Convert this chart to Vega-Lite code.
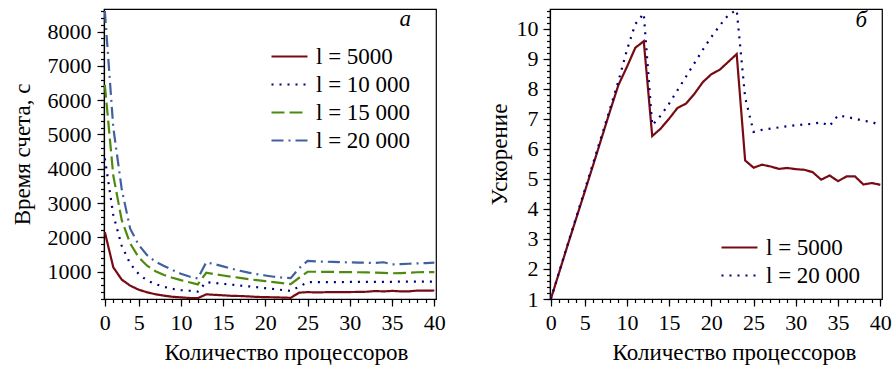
{
  "$schema": "https://vega.github.io/schema/vega-lite/v6.json",
  "padding": {"left": 10, "top": 7, "right": 0, "bottom": 0},
  "background": "white",
  "spacing": 41,
  "config": {
    "font": "Liberation Serif, Times New Roman, serif",
    "view": {"stroke": "black", "strokeWidth": 1.2},
    "axis": {
      "grid": false,
      "domainColor": "black", "domainWidth": 1.2,
      "tickColor": "black", "tickWidth": 1.2, "tickSize": 7,
      "labelColor": "black", "labelFont": "Liberation Serif, Times New Roman, serif", "labelFontSize": 22,
      "titleColor": "black", "titleFont": "Liberation Serif, Times New Roman, serif", "titleFontSize": 23, "titleFontWeight": "normal"
    },
    "legend": {
      "labelFont": "Liberation Serif, Times New Roman, serif", "labelFontSize": 23, "labelColor": "black",
      "symbolType": "M-2,0H2", "symbolSize": 324, "symbolStrokeWidth": 2.2,
      "labelOffset": 15, "rowPadding": 4, "padding": 0
    },
    "title": {"font": "Liberation Serif, Times New Roman, serif", "fontSize": 23, "fontWeight": "normal", "fontStyle": "italic", "color": "black"}
  },
  "datasets": {
    "time": [
      {"p":1,"series":"l = 5000","t":2150},{"p":2,"series":"l = 5000","t":1125},{"p":3,"series":"l = 5000","t":765},{"p":4,"series":"l = 5000","t":590},{"p":5,"series":"l = 5000","t":472},{"p":6,"series":"l = 5000","t":395},{"p":7,"series":"l = 5000","t":338},{"p":8,"series":"l = 5000","t":297},{"p":9,"series":"l = 5000","t":265},{"p":10,"series":"l = 5000","t":247},{"p":11,"series":"l = 5000","t":230},{"p":12,"series":"l = 5000","t":224},{"p":13,"series":"l = 5000","t":335},{"p":14,"series":"l = 5000","t":322},{"p":15,"series":"l = 5000","t":307},{"p":16,"series":"l = 5000","t":292},{"p":17,"series":"l = 5000","t":287},{"p":18,"series":"l = 5000","t":275},{"p":19,"series":"l = 5000","t":262},{"p":20,"series":"l = 5000","t":254},{"p":21,"series":"l = 5000","t":250},{"p":22,"series":"l = 5000","t":242},{"p":23,"series":"l = 5000","t":235},{"p":24,"series":"l = 5000","t":385},{"p":25,"series":"l = 5000","t":400},{"p":26,"series":"l = 5000","t":393},{"p":27,"series":"l = 5000","t":397},{"p":28,"series":"l = 5000","t":403},{"p":29,"series":"l = 5000","t":401},{"p":30,"series":"l = 5000","t":403},{"p":31,"series":"l = 5000","t":406},{"p":32,"series":"l = 5000","t":412},{"p":33,"series":"l = 5000","t":433},{"p":34,"series":"l = 5000","t":421},{"p":35,"series":"l = 5000","t":437},{"p":36,"series":"l = 5000","t":423},{"p":37,"series":"l = 5000","t":423},{"p":38,"series":"l = 5000","t":447},{"p":39,"series":"l = 5000","t":442},{"p":40,"series":"l = 5000","t":448},
      {"p":1,"series":"l = 10 000","t":4300},{"p":2,"series":"l = 10 000","t":2650},{"p":3,"series":"l = 10 000","t":1750},{"p":4,"series":"l = 10 000","t":1230},{"p":5,"series":"l = 10 000","t":930},{"p":6,"series":"l = 10 000","t":740},{"p":7,"series":"l = 10 000","t":635},{"p":8,"series":"l = 10 000","t":555},{"p":9,"series":"l = 10 000","t":495},{"p":10,"series":"l = 10 000","t":460},{"p":11,"series":"l = 10 000","t":440},{"p":12,"series":"l = 10 000","t":415},{"p":13,"series":"l = 10 000","t":690},{"p":14,"series":"l = 10 000","t":668},{"p":15,"series":"l = 10 000","t":640},{"p":16,"series":"l = 10 000","t":618},{"p":17,"series":"l = 10 000","t":592},{"p":18,"series":"l = 10 000","t":570},{"p":19,"series":"l = 10 000","t":542},{"p":20,"series":"l = 10 000","t":515},{"p":21,"series":"l = 10 000","t":492},{"p":22,"series":"l = 10 000","t":462},{"p":23,"series":"l = 10 000","t":438},{"p":24,"series":"l = 10 000","t":560},{"p":25,"series":"l = 10 000","t":690},{"p":26,"series":"l = 10 000","t":690},{"p":27,"series":"l = 10 000","t":692},{"p":28,"series":"l = 10 000","t":695},{"p":29,"series":"l = 10 000","t":695},{"p":30,"series":"l = 10 000","t":697},{"p":31,"series":"l = 10 000","t":697},{"p":32,"series":"l = 10 000","t":700},{"p":33,"series":"l = 10 000","t":700},{"p":34,"series":"l = 10 000","t":700},{"p":35,"series":"l = 10 000","t":702},{"p":36,"series":"l = 10 000","t":705},{"p":37,"series":"l = 10 000","t":705},{"p":38,"series":"l = 10 000","t":705},{"p":39,"series":"l = 10 000","t":708},{"p":40,"series":"l = 10 000","t":710},
      {"p":1,"series":"l = 15 000","t":6450},{"p":2,"series":"l = 15 000","t":3800},{"p":3,"series":"l = 15 000","t":2500},{"p":4,"series":"l = 15 000","t":1820},{"p":5,"series":"l = 15 000","t":1420},{"p":6,"series":"l = 15 000","t":1170},{"p":7,"series":"l = 15 000","t":1010},{"p":8,"series":"l = 15 000","t":900},{"p":9,"series":"l = 15 000","t":820},{"p":10,"series":"l = 15 000","t":750},{"p":11,"series":"l = 15 000","t":690},{"p":12,"series":"l = 15 000","t":625},{"p":13,"series":"l = 15 000","t":965},{"p":14,"series":"l = 15 000","t":925},{"p":15,"series":"l = 15 000","t":885},{"p":16,"series":"l = 15 000","t":850},{"p":17,"series":"l = 15 000","t":815},{"p":18,"series":"l = 15 000","t":780},{"p":19,"series":"l = 15 000","t":750},{"p":20,"series":"l = 15 000","t":720},{"p":21,"series":"l = 15 000","t":690},{"p":22,"series":"l = 15 000","t":665},{"p":23,"series":"l = 15 000","t":635},{"p":24,"series":"l = 15 000","t":820},{"p":25,"series":"l = 15 000","t":995},{"p":26,"series":"l = 15 000","t":995},{"p":27,"series":"l = 15 000","t":990},{"p":28,"series":"l = 15 000","t":990},{"p":29,"series":"l = 15 000","t":985},{"p":30,"series":"l = 15 000","t":985},{"p":31,"series":"l = 15 000","t":980},{"p":32,"series":"l = 15 000","t":975},{"p":33,"series":"l = 15 000","t":970},{"p":34,"series":"l = 15 000","t":960},{"p":35,"series":"l = 15 000","t":950},{"p":36,"series":"l = 15 000","t":955},{"p":37,"series":"l = 15 000","t":965},{"p":38,"series":"l = 15 000","t":980},{"p":39,"series":"l = 15 000","t":985},{"p":40,"series":"l = 15 000","t":985},
      {"p":1,"series":"l = 20 000","t":8600},{"p":2,"series":"l = 20 000","t":5200},{"p":3,"series":"l = 20 000","t":3400},{"p":4,"series":"l = 20 000","t":2250},{"p":5,"series":"l = 20 000","t":1780},{"p":6,"series":"l = 20 000","t":1480},{"p":7,"series":"l = 20 000","t":1290},{"p":8,"series":"l = 20 000","t":1165},{"p":9,"series":"l = 20 000","t":1045},{"p":10,"series":"l = 20 000","t":935},{"p":11,"series":"l = 20 000","t":855},{"p":12,"series":"l = 20 000","t":800},{"p":13,"series":"l = 20 000","t":1270},{"p":14,"series":"l = 20 000","t":1215},{"p":15,"series":"l = 20 000","t":1150},{"p":16,"series":"l = 20 000","t":1085},{"p":17,"series":"l = 20 000","t":1025},{"p":18,"series":"l = 20 000","t":970},{"p":19,"series":"l = 20 000","t":925},{"p":20,"series":"l = 20 000","t":885},{"p":21,"series":"l = 20 000","t":850},{"p":22,"series":"l = 20 000","t":825},{"p":23,"series":"l = 20 000","t":810},{"p":24,"series":"l = 20 000","t":1100},{"p":25,"series":"l = 20 000","t":1310},{"p":26,"series":"l = 20 000","t":1297},{"p":27,"series":"l = 20 000","t":1289},{"p":28,"series":"l = 20 000","t":1282},{"p":29,"series":"l = 20 000","t":1274},{"p":30,"series":"l = 20 000","t":1268},{"p":31,"series":"l = 20 000","t":1263},{"p":32,"series":"l = 20 000","t":1259},{"p":33,"series":"l = 20 000","t":1250},{"p":34,"series":"l = 20 000","t":1272},{"p":35,"series":"l = 20 000","t":1210},{"p":36,"series":"l = 20 000","t":1218},{"p":37,"series":"l = 20 000","t":1229},{"p":38,"series":"l = 20 000","t":1241},{"p":39,"series":"l = 20 000","t":1248},{"p":40,"series":"l = 20 000","t":1262}
    ],
    "speedup": [
      {"p":1,"series":"l = 5000","s":1.0},{"p":2,"series":"l = 5000","s":1.9},{"p":3,"series":"l = 5000","s":2.8},{"p":4,"series":"l = 5000","s":3.68},{"p":5,"series":"l = 5000","s":4.56},{"p":6,"series":"l = 5000","s":5.45},{"p":7,"series":"l = 5000","s":6.35},{"p":8,"series":"l = 5000","s":7.25},{"p":9,"series":"l = 5000","s":8.12},{"p":10,"series":"l = 5000","s":8.72},{"p":11,"series":"l = 5000","s":9.36},{"p":12,"series":"l = 5000","s":9.58},{"p":13,"series":"l = 5000","s":6.42},{"p":14,"series":"l = 5000","s":6.67},{"p":15,"series":"l = 5000","s":7.0},{"p":16,"series":"l = 5000","s":7.36},{"p":17,"series":"l = 5000","s":7.5},{"p":18,"series":"l = 5000","s":7.83},{"p":19,"series":"l = 5000","s":8.22},{"p":20,"series":"l = 5000","s":8.48},{"p":21,"series":"l = 5000","s":8.63},{"p":22,"series":"l = 5000","s":8.89},{"p":23,"series":"l = 5000","s":9.15},{"p":24,"series":"l = 5000","s":5.61},{"p":25,"series":"l = 5000","s":5.37},{"p":26,"series":"l = 5000","s":5.47},{"p":27,"series":"l = 5000","s":5.41},{"p":28,"series":"l = 5000","s":5.33},{"p":29,"series":"l = 5000","s":5.36},{"p":30,"series":"l = 5000","s":5.32},{"p":31,"series":"l = 5000","s":5.30},{"p":32,"series":"l = 5000","s":5.22},{"p":33,"series":"l = 5000","s":4.97},{"p":34,"series":"l = 5000","s":5.11},{"p":35,"series":"l = 5000","s":4.92},{"p":36,"series":"l = 5000","s":5.08},{"p":37,"series":"l = 5000","s":5.08},{"p":38,"series":"l = 5000","s":4.81},{"p":39,"series":"l = 5000","s":4.86},{"p":40,"series":"l = 5000","s":4.80},
      {"p":1,"series":"l = 20 000","s":1.0},{"p":2,"series":"l = 20 000","s":1.92},{"p":3,"series":"l = 20 000","s":2.83},{"p":4,"series":"l = 20 000","s":3.72},{"p":5,"series":"l = 20 000","s":4.62},{"p":6,"series":"l = 20 000","s":5.52},{"p":7,"series":"l = 20 000","s":6.42},{"p":8,"series":"l = 20 000","s":7.33},{"p":9,"series":"l = 20 000","s":8.25},{"p":10,"series":"l = 20 000","s":9.28},{"p":11,"series":"l = 20 000","s":10.15},{"p":12,"series":"l = 20 000","s":10.5},{"p":13,"series":"l = 20 000","s":6.78},{"p":14,"series":"l = 20 000","s":7.1},{"p":15,"series":"l = 20 000","s":7.5},{"p":16,"series":"l = 20 000","s":7.95},{"p":17,"series":"l = 20 000","s":8.4},{"p":18,"series":"l = 20 000","s":8.85},{"p":19,"series":"l = 20 000","s":9.3},{"p":20,"series":"l = 20 000","s":9.72},{"p":21,"series":"l = 20 000","s":10.1},{"p":22,"series":"l = 20 000","s":10.45},{"p":23,"series":"l = 20 000","s":10.62},{"p":24,"series":"l = 20 000","s":7.7},{"p":25,"series":"l = 20 000","s":6.56},{"p":26,"series":"l = 20 000","s":6.63},{"p":27,"series":"l = 20 000","s":6.67},{"p":28,"series":"l = 20 000","s":6.71},{"p":29,"series":"l = 20 000","s":6.75},{"p":30,"series":"l = 20 000","s":6.78},{"p":31,"series":"l = 20 000","s":6.81},{"p":32,"series":"l = 20 000","s":6.83},{"p":33,"series":"l = 20 000","s":6.88},{"p":34,"series":"l = 20 000","s":6.76},{"p":35,"series":"l = 20 000","s":7.11},{"p":36,"series":"l = 20 000","s":7.06},{"p":37,"series":"l = 20 000","s":7.0},{"p":38,"series":"l = 20 000","s":6.93},{"p":39,"series":"l = 20 000","s":6.89},{"p":40,"series":"l = 20 000","s":6.78}
    ]
  },
  "hconcat": [
    {
      "width": 332, "height": 290,
      "title": {"text": "а", "anchor": "end", "frame": "group", "offset": -22, "dx": -25},
      "data": {"name": "time"},
      "layer": [
        {
          "mark": {"type": "line", "strokeWidth": 2.2, "clip": true},
          "encoding": {
            "x": {"field": "p", "type": "quantitative", "scale": {"domain": [0.9, 40.2], "nice": false, "zero": false},
                  "axis": {"orient": "bottom", "values": [1,5,10,15,20,25,30,35,40], "labelExpr": "datum.value == 1 ? '0' : datum.label", "labelPadding": 6, "labelFlush": false, "labelOverlap": false,
                           "title": "Количество процессоров", "titleX": 182, "titleY": 60, "titleBaseline": "alphabetic", "titleAnchor": null}},
            "y": {"field": "t", "type": "quantitative", "scale": {"domain": [200, 8660], "nice": false, "zero": false},
                  "axis": {"orient": "left", "values": [1000,2000,3000,4000,5000,6000,7000,8000], "format": "d", "labelPadding": 6, "labelOverlap": false,
                           "title": "Время счета, с", "titleX": -82, "titleY": 145, "titleBaseline": "middle", "titleAlign": "center", "titleAngle": -90}},
            "color": {"field": "series", "type": "nominal",
                      "scale": {"domain": ["l = 5000", "l = 10 000", "l = 15 000", "l = 20 000"], "range": ["#780a12", "#00007a", "#4e8a10", "#41619e"]},
                      "legend": {"title": null, "orient": "none", "legendX": 174, "legendY": 36}},
            "strokeDash": {"field": "series", "type": "nominal",
                      "scale": {"domain": ["l = 5000", "l = 10 000", "l = 15 000", "l = 20 000"], "range": [[1,0],[2,6],[13,5],[12,5,2,5]]},
                      "legend": {"title": null, "orient": "none", "legendX": 174, "legendY": 36}}
          }
        },
        {
          "mark": {"type": "line", "opacity": 0},
          "encoding": {
            "x": {"field": "p", "type": "quantitative", "scale": {"domain": [0.9, 40.2], "nice": false, "zero": false},
                  "axis": {"orient": "bottom", "values": [1,2,3,4,5,6,7,8,9,10,11,12,13,14,15,16,17,18,19,20,21,22,23,24,25,26,27,28,29,30,31,32,33,34,35,36,37,38,39,40], "labels": false, "domain": false, "tickSize": 3.5, "title": null}},
            "y": {"field": "t", "type": "quantitative", "scale": {"domain": [200, 8660], "nice": false, "zero": false},
                  "axis": {"orient": "left", "values": [200,400,600,800,1000,1200,1400,1600,1800,2000,2200,2400,2600,2800,3000,3200,3400,3600,3800,4000,4200,4400,4600,4800,5000,5200,5400,5600,5800,6000,6200,6400,6600,6800,7000,7200,7400,7600,7800,8000,8200,8400,8600], "labels": false, "domain": false, "tickSize": 3.5, "title": null}},
            "detail": {"field": "series"}
          }
        }
      ],
      "resolve": {"axis": {"x": "independent", "y": "independent"}}
    },
    {
      "width": 332, "height": 290,
      "title": {"text": "б", "anchor": "end", "frame": "group", "offset": -23, "dx": -15},
      "data": {"name": "speedup"},
      "layer": [
        {
          "mark": {"type": "line", "strokeWidth": 2.2, "clip": true},
          "encoding": {
            "x": {"field": "p", "type": "quantitative", "scale": {"domain": [0.9, 40.2], "nice": false, "zero": false},
                  "axis": {"orient": "bottom", "values": [1,5,10,15,20,25,30,35,40], "labelExpr": "datum.value == 1 ? '0' : datum.label", "labelPadding": 6, "labelFlush": false, "labelOverlap": false,
                           "title": "Количество процессоров", "titleX": 184, "titleY": 60, "titleBaseline": "alphabetic", "titleAnchor": null}},
            "y": {"field": "s", "type": "quantitative", "scale": {"domain": [1, 10.65], "nice": false, "zero": false},
                  "axis": {"orient": "left", "values": [1,2,3,4,5,6,7,8,9,10], "labelPadding": 5, "labelOverlap": false,
                           "title": "Ускорение", "titleX": -51, "titleY": 145, "titleBaseline": "middle", "titleAlign": "center", "titleAngle": -90}},
            "color": {"field": "series", "type": "nominal",
                      "scale": {"domain": ["l = 5000", "l = 20 000"], "range": ["#780a12", "#00007a"]},
                      "legend": {"title": null, "orient": "none", "legendX": 178, "legendY": 227}},
            "strokeDash": {"field": "series", "type": "nominal",
                      "scale": {"domain": ["l = 5000", "l = 20 000"], "range": [[1,0],[2,6]]},
                      "legend": {"title": null, "orient": "none", "legendX": 178, "legendY": 227}}
          }
        },
        {
          "mark": {"type": "line", "opacity": 0},
          "encoding": {
            "x": {"field": "p", "type": "quantitative", "scale": {"domain": [0.9, 40.2], "nice": false, "zero": false},
                  "axis": {"orient": "bottom", "values": [1,2,3,4,5,6,7,8,9,10,11,12,13,14,15,16,17,18,19,20,21,22,23,24,25,26,27,28,29,30,31,32,33,34,35,36,37,38,39,40], "labels": false, "domain": false, "tickSize": 3.5, "title": null}},
            "y": {"field": "s", "type": "quantitative", "scale": {"domain": [1, 10.65], "nice": false, "zero": false},
                  "axis": {"orient": "left", "values": [1,1.2,1.4,1.6,1.8,2,2.2,2.4,2.6,2.8,3,3.2,3.4,3.6,3.8,4,4.2,4.4,4.6,4.8,5,5.2,5.4,5.6,5.8,6,6.2,6.4,6.6,6.8,7,7.2,7.4,7.6,7.8,8,8.2,8.4,8.6,8.8,9,9.2,9.4,9.6,9.8,10,10.2,10.4,10.6], "labels": false, "domain": false, "tickSize": 3.5, "title": null}},
            "detail": {"field": "series"}
          }
        }
      ],
      "resolve": {"axis": {"x": "independent", "y": "independent"}}
    }
  ],
  "resolve": {"scale": {"color": "independent", "strokeDash": "independent"}}
}
